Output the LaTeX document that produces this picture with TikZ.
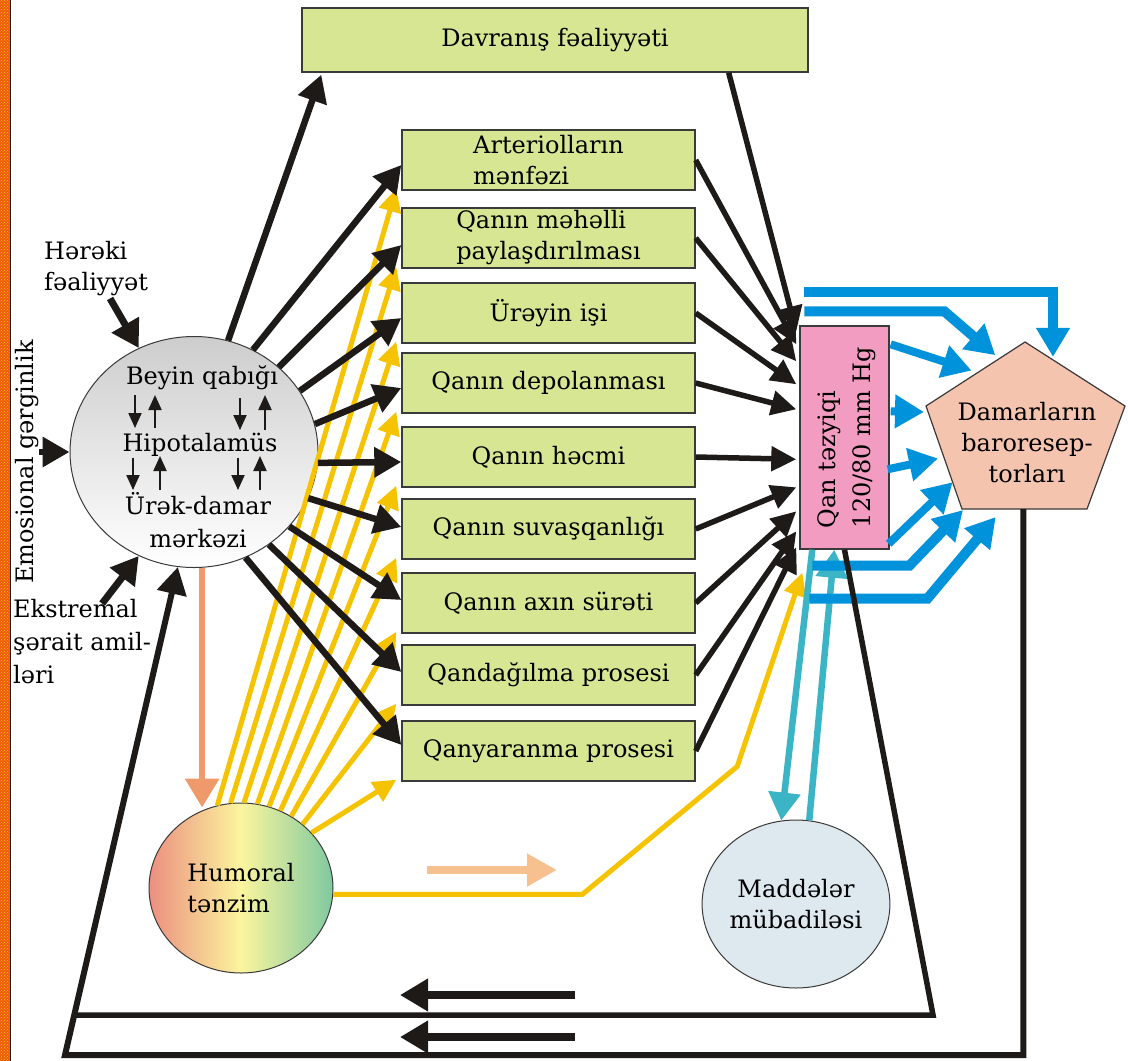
\documentclass[tikz,border=0pt]{standalone}
\usepackage{fontspec}
\setmainfont{DejaVu Serif}
\usepackage{tikz}
\usetikzlibrary{arrows.meta,shapes.geometric,calc,patterns,positioning}

\definecolor{boxgreen}{HTML}{D7E693}
\definecolor{edgegray}{HTML}{3A3A3A}
\definecolor{inkblack}{HTML}{1E1A18}
\definecolor{pinkbox}{HTML}{F19CC0}
\definecolor{peachpent}{HTML}{F5C4AF}
\definecolor{maddefill}{HTML}{DDE8EF}
\definecolor{braingray}{HTML}{CDCDCD}
\definecolor{humsalmon}{HTML}{EC8F80}
\definecolor{humyellow}{HTML}{FBF59E}
\definecolor{humgreen}{HTML}{7FC9A0}
\definecolor{fanyellow}{HTML}{F6C300}
\definecolor{baroblue}{HTML}{0092DA}
\definecolor{exteal}{HTML}{3BB5C5}
\definecolor{salmonarr}{HTML}{EE9A6B}
\definecolor{peacharr}{HTML}{F6C18F}
\definecolor{stripred}{HTML}{EE5A0E}
\definecolor{stripyellow}{HTML}{FFD000}

\begin{document}
\begin{tikzpicture}[x=1pt, y=-1pt,
  every node/.style={inner sep=0pt, font=\fontsize{24}{31}\selectfont},
  procbox/.style={draw=edgegray, line width=1.4pt, fill=boxgreen, minimum width=293pt, minimum height=60pt, align=center},
  oval/.style={ellipse, draw=edgegray, line width=1pt},
  blackarr/.style={draw=inkblack, line width=6.5pt, -{Triangle[length=27pt, width=29pt]}},
  intoarr/.style={draw=inkblack, line width=5.5pt, -{Triangle[length=25pt, width=24pt]}},
  yelarr/.style={draw=fanyellow, line width=5pt, -{Triangle[length=23pt, width=22pt]}},
  bluearr/.style={draw=baroblue, line width=10pt, -{Triangle[length=29pt, width=32pt]}},
  tealarr/.style={draw=exteal, line width=6.5pt, -{Triangle[length=28pt, width=31pt]}},
  tinyarr/.style={draw=inkblack, line width=2pt, -{Triangle[length=15pt, width=13pt]}},
  loopline/.style={draw=inkblack, line width=5.5pt}
]
\useasboundingbox (0,0) rectangle (1128,1061);
\fill[white] (0,0) rectangle (1128,1061);

% left border strip
\fill[stripred] (0,0) rectangle (10,1061);
\fill[pattern=crosshatch dots, pattern color=stripyellow] (0,0) rectangle (10,1061);
\draw[inkblack, line width=1.5pt] (10.5,0) -- (10.5,1061);

% boxes
\node[procbox, minimum width=506pt, minimum height=64pt] (davr) at (555,40) {Davranış fəaliyyəti};
\node[procbox, align=left] (b1) at (548.5,160) {Arteriolların\\mənfəzi};
\node[procbox, align=left] (b2) at (548.5,238) {Qanın məhəlli\\paylaşdırılması};
\node[procbox] (b3) at (548.5,313) {Ürəyin işi};
\node[procbox] (b4) at (548.5,383) {Qanın depolanması};
\node[procbox] (b5) at (548.5,457) {Qanın həcmi};
\node[procbox] (b6) at (548.5,529) {Qanın suvaşqanlığı};
\node[procbox] (b7) at (548.5,603) {Qanın axın sürəti};
\node[procbox] (b8) at (548.5,675) {Qandağılma prosesi};
\node[procbox] (b9) at (548.5,751) {Qanyaranma prosesi};

% blood pressure
\node[draw=edgegray, line width=1.4pt, fill=pinkbox, minimum width=89pt, minimum height=223pt] (pink) at (844.5,437.5) {};
\node[rotate=90, align=left, font=\fontsize{24}{35}\selectfont] (pinktxt) at ([xshift=2pt]pink.center) {Qan təzyiqi\\120/80 mm Hg};

% baroreceptors
\coordinate (p1) at (1025,342);
\coordinate (p2) at (1125,406);
\coordinate (p3) at (1087,509);
\coordinate (p4) at (962,509);
\coordinate (p5) at (926,406);
\filldraw[fill=peachpent, draw=edgegray, line width=1.2pt] (p1) -- (p2) -- (p3) -- (p4) -- (p5) -- cycle;
\node[align=center] (baro) at (1027,443) {Damarların\\baroresep-\\torları};

% circles
\node[oval, top color=braingray, bottom color=white, minimum width=248pt, minimum height=231pt] (brain) at (194,452) {};
\node (bq) at (202,378) {Beyin qabığı};
\node (hp) at (200,445) {Hipotalamüs};
\node[align=center, font=\fontsize{24}{33}\selectfont] (ud) at (198,520) {Ürək-damar\\mərkəzi};
\node[oval, left color=humsalmon, right color=humgreen, middle color=humyellow, minimum width=184pt, minimum height=170pt, align=left] (humoral) at (241,888) {Humoral\\tənzim};
\node[oval, fill=maddefill, minimum width=178pt, minimum height=168pt, align=center] (madde) at (796,904) {Maddələr\\mübadiləsi};

% outside factors
\node[align=left, anchor=west] (hereki) at (44,269) {Hərəki\\fəaliyyət};
\node[rotate=90] (emo) at (27,462) {Emosional gərginlik};
\node[align=left, anchor=west, font=\fontsize{24}{33}\selectfont] (ekstr) at (13,642) {Ekstremal\\şərait amil-\\ləri};

% small arrows inside the brain
\foreach \x/\ya/\yb in {135/395/428, 155/428/395, 240/398/430, 265/430/395,
                        133/458/490, 160/490/456, 238/458/490, 260/490/456}
  \draw[tinyarr] (\x,\ya) -- (\x,\yb);

% humoral fan
\foreach \i/\a in {1/106,2/97,3/88,4/79,5/71,6/63,7/55,8/46,9/38}
  \draw[yelarr] (humoral.\a) -- ([xshift=-5pt,yshift=2pt]b\i.south west);

% brain to boxes
\draw[blackarr] (brain.73) -- ([xshift=20pt,yshift=-2pt]davr.south west);
\foreach \i/\a/\o in {1/60/-5, 2/45/-7, 3/30/-5, 4/13/-5, 5/-5/-5, 6/-22/2, 7/-38/3, 8/-51/3, 9/-64/6}
  \draw[blackarr] (brain.\a) -- ([yshift=\o pt]b\i.west);

% boxes to pressure
\draw[intoarr] ([xshift=-80pt]davr.south east) -- ([xshift=-3pt,yshift=-6pt]pink.north west);
\foreach \i/\o in {1/19, 2/36, 3/59, 4/84, 5/134, 6/162, 7/186, 8/206, 9/222}
  \draw[intoarr] (b\i.east) -- ([xshift=-3pt,yshift=-\o pt]pink.north west);

% into the brain
\draw[blackarr, line width=7pt, -{Triangle[length=27pt, width=30pt]}] ([xshift=14pt,yshift=-2pt]hereki.south) -- (brain.118);
\draw[blackarr] (emo.south |- brain.west) -- (brain.west);
\draw[blackarr, line width=7pt, -{Triangle[length=27pt, width=30pt]}] ([xshift=20pt,yshift=-4pt]ekstr.north) -- (brain.242);

% brain to humoral
\draw[draw=salmonarr, line width=6.5pt, -{Triangle[length=29pt, width=33pt]}] (brain.274) -- ($(brain.274 |- humoral.north)+(0,5)$);

% humoral to pressure
\coordinate (pa) at (427,870);
\coordinate (pb) at (557,870);
\draw[draw=peacharr, line width=8.5pt, -{Triangle[length=30pt, width=31pt]}] (pa) -- (pb);
\draw[yelarr] (humoral.-4) -- ++(249,0) -- ++(155,-128) -- ($(pink.south west)+(3,23)$);

% exchange
\draw[tealarr] ($(pink.south west)+(13,0)$) -- (madde.100);
\draw[tealarr] (madde.81) -- ($(pink.south west)+(35,0)$);

% pressure to baroreceptors
\draw[bluearr] ($(pink.north west)+(5,-33)$) -| ($(p1)!0.28!(p2)+(0,-3)$);
\draw[bluearr] ($(pink.north west)+(5,-14)$) -- ++(140,0) -- ($(p5)!0.7!(p1)+(0,-6)$);
\draw[bluearr, line width=8pt] ($(pink.north east)+(1,19)$) -- ($(p5)!0.46!(p1)+(0,-6)$);
\draw[bluearr, line width=8pt] ($(pink.north east)+(1,86)$) -- ($(p5)+(-2,6)$);
\draw[bluearr, line width=8pt] ($(pink.north east)+(-2,144)$) -- ($(p5)!0.5!(p4)+(-6,1)$);
\draw[bluearr, line width=8pt] ($(pink.south east)+(-1,-6)$) -- ($(p5)!0.74!(p4)$);
\draw[bluearr] ($(pink.south west)+(13,16)$) -- ++(97,0) -- ($(p4)+(1,1)$);
\draw[bluearr] ($(pink.south west)+(10,49)$) -- ++(118,0) -- ($(p4)!0.27!(p3)+(0,8)$);

% feedback loops
\coordinate (baroout) at ($(p4)!0.49!(p3)$);
\draw[loopline] (pink.south) -- (933,1015) -- (74,1015);
\draw[blackarr, line width=6pt] (baroout) |- (65,1055) -- (brain.262);
\coordinate (ra) at (575,995);
\coordinate (rb) at (400,995);
\coordinate (rc) at (575,1037);
\coordinate (rd) at (400,1037);
\draw[draw=inkblack, line width=7.5pt, -{Triangle[length=28pt, width=31pt]}] (ra) -- (rb);
\draw[draw=inkblack, line width=7.5pt, -{Triangle[length=28pt, width=31pt]}] (rc) -- (rd);
\end{tikzpicture}
\end{document}
